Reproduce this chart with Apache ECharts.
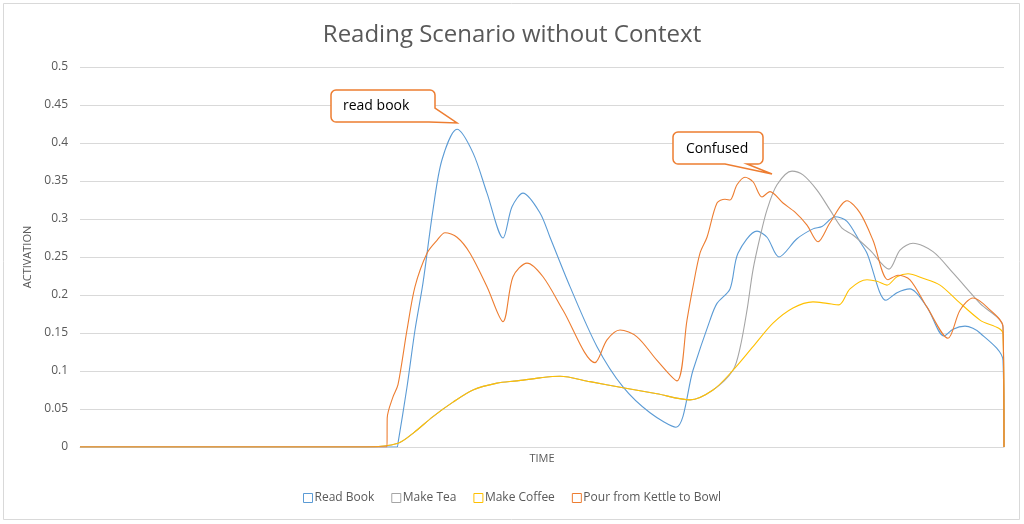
<!DOCTYPE html>
<html>
<head>
<meta charset="utf-8">
<script src="https://cdn.jsdelivr.net/npm/echarts@6/dist/echarts.min.js"></script>
<style>
html,body{margin:0;padding:0;background:#fff;}
#chart{width:1024px;height:524px;}
</style>
</head>
<body>
<div id="chart"></div>
<script>
// Time is in arbitrary time steps (0..231); values are activation levels
var seriesNames = ['Read Book', 'Make Tea', 'Make Coffee', 'Pour from Kettle to Bowl'];
var yTicks = [0, 0.05, 0.1, 0.15, 0.2, 0.25, 0.3, 0.35, 0.4, 0.45, 0.5];

var readBook = [
  [0, 0], [79.25, 0], [79.5, 0.005], [81.75, 0.079], [83.75, 0.154], [85.75, 0.216], [88.25, 0.312],
  [90.5, 0.378], [94.25, 0.418], [98.25, 0.387], [101.75, 0.334], [105.75, 0.275],
  [108, 0.316], [110.75, 0.334], [115, 0.308], [117.5, 0.276], [122.5, 0.211],
  [129.25, 0.132], [135.75, 0.079], [142.5, 0.045], [149, 0.026], [153.25, 0.101],
  [157.5, 0.167], [159.25, 0.189], [162.5, 0.208], [164.5, 0.255], [169.25, 0.284],
  [171.75, 0.276], [174.75, 0.25], [179.25, 0.274], [183.25, 0.287], [185.5, 0.29],
  [188.75, 0.303], [191.75, 0.297], [195, 0.27], [196.75, 0.255], [201.5, 0.193],
  [204.25, 0.203], [207.5, 0.208], [211.75, 0.184], [216, 0.146], [218.25, 0.155],
  [221.25, 0.159], [225, 0.15], [230.75, 0.114], [231, 0]
];

var makeTea = [
  [0, 0], [71.75, 0], [79.5, 0.005], [83.25, 0.018], [88.25, 0.04], [93.25, 0.059],
  [98.25, 0.075], [104.25, 0.084], [109.25, 0.087], [115, 0.091], [120, 0.093],
  [127.5, 0.086], [135.75, 0.078], [144.25, 0.07], [152.5, 0.062], [158.25, 0.075],
  [163.25, 0.101], [165, 0.13], [166.75, 0.18], [168.25, 0.233], [170, 0.276],
  [171.75, 0.312], [174.25, 0.345], [178, 0.363], [180.75, 0.358], [184.25, 0.338],
  [187.5, 0.312], [190.5, 0.288], [193.25, 0.279], [197.5, 0.259], [202.25, 0.234],
  [205, 0.259], [208.25, 0.268], [213.25, 0.257], [218.25, 0.229], [225, 0.189],
  [230.75, 0.158], [231, 0]
];

var makeCoffee = [
  [0, 0], [71.75, 0], [79.5, 0.005], [83.25, 0.018], [88.25, 0.04], [93.25, 0.059],
  [98.25, 0.075], [104.25, 0.084], [109.25, 0.087], [115, 0.091], [120, 0.093],
  [127.5, 0.086], [135.75, 0.078], [144.25, 0.07], [152.5, 0.062], [158.25, 0.075],
  [163.25, 0.101], [168.25, 0.132], [173.25, 0.163], [178.25, 0.183], [183.25, 0.191],
  [186.75, 0.189], [189.75, 0.187], [192.5, 0.208], [196.75, 0.22], [199.25, 0.218],
  [201.75, 0.213], [204.25, 0.224], [207, 0.228], [210.75, 0.222], [215, 0.213],
  [219.25, 0.193], [225, 0.167], [230.75, 0.149], [231, 0]
];

var pourKettle = [
  [0, 0], [76.75, 0], [76.8, 0.038], [78.25, 0.066], [79.5, 0.082], [81.75, 0.154],
  [83.75, 0.211], [86.75, 0.255], [89.25, 0.272], [91.25, 0.282], [94.25, 0.276],
  [97.5, 0.255], [101.75, 0.211], [105.75, 0.165], [108.25, 0.224], [111.75, 0.242],
  [115.75, 0.224], [120.75, 0.18], [128.75, 0.111], [131.75, 0.141], [135, 0.154],
  [139.25, 0.145], [144.25, 0.114], [149.25, 0.087], [151.75, 0.167], [153.25, 0.211],
  [155, 0.255], [156.75, 0.276], [159.25, 0.321], [161.25, 0.326], [162.5, 0.325],
  [164.25, 0.345], [166.25, 0.355], [168.25, 0.349], [170.5, 0.329], [172.5, 0.336],
  [175.75, 0.321], [178.75, 0.309], [181.75, 0.292], [184.5, 0.27], [187.5, 0.295],
  [191.75, 0.324], [195, 0.308], [198.25, 0.272], [202, 0.22], [204.5, 0.226],
  [207.5, 0.22], [211.75, 0.184], [217, 0.143], [220, 0.18], [223.25, 0.196],
  [226.75, 0.184], [230.75, 0.158], [231, 0]
];

var colors = ['#5B9BD5', '#A5A5A5', '#FFC000', '#ED7D31'];
var allData = [readBook, makeTea, makeCoffee, pourKettle];
var FONT = 'Open Sans';

// rounded-corner arc points for callout outlines
function arcPts(cx, cy, r, a0, a1) {
  var pts = [];
  for (var k = 0; k <= 4; k++) {
    var a = (a0 + (a1 - a0) * k / 4) * Math.PI / 180;
    pts.push([cx + r * Math.cos(a), cy + r * Math.sin(a)]);
  }
  return pts;
}
function calloutRight(x0, y0, x1, y1, r, tailRightY, tip, tailBottomX) {
  var p = [];
  p = p.concat(arcPts(x0 + r, y0 + r, r, 180, 270));
  p = p.concat(arcPts(x1 - r, y0 + r, r, 270, 360));
  p.push([x1, tailRightY]);
  p.push(tip);
  p.push([tailBottomX, y1]);
  p = p.concat(arcPts(x0 + r, y1 - r, r, 90, 180));
  return p;
}
function calloutBottom(x0, y0, x1, y1, r, baseR, tip, baseL) {
  var p = [];
  p = p.concat(arcPts(x0 + r, y0 + r, r, 180, 270));
  p = p.concat(arcPts(x1 - r, y0 + r, r, 270, 360));
  p = p.concat(arcPts(x1 - r, y1 - r, r, 0, 90));
  p.push([baseR, y1]);
  p.push(tip);
  p.push([baseL, y1]);
  p = p.concat(arcPts(x0 + r, y1 - r, r, 90, 180));
  return p;
}

var chart = echarts.init(document.getElementById('chart'));
var option = {
  animation: false,
  backgroundColor: '#fff',
  title: {
    text: 'Reading Scenario without Context',
    left: 'center',
    top: 18,
    textStyle: { fontFamily: FONT, fontSize: 24, fontWeight: 'normal', color: '#595959' }
  },
  grid: { left: 80, right: 20, top: 67, bottom: 77, containLabel: false },
  legend: {
    bottom: 15,
    left: 'center',
    itemGap: 17,
    itemWidth: 9,
    itemHeight: 9,
    icon: 'rect',
    textStyle: { fontFamily: FONT, fontSize: 12, color: '#595959', padding: [0, 0, 0, -3] },
    data: seriesNames.map(function (n, i) {
      return { name: n, itemStyle: { color: '#fff', borderColor: colors[i], borderWidth: 1 } };
    })
  },
  xAxis: {
    type: 'value',
    min: 0,
    max: 231,
    name: 'TIME',
    nameLocation: 'middle',
    nameGap: 6,
    nameTextStyle: { fontFamily: FONT, fontSize: 11, color: '#595959' },
    axisLabel: { show: false },
    axisTick: { show: false },
    splitLine: { show: false },
    axisLine: { lineStyle: { color: '#D9D9D9' } }
  },
  yAxis: {
    type: 'value',
    min: 0,
    max: 0.5,
    interval: 0.05,
    name: 'ACTIVATION',
    nameLocation: 'middle',
    nameGap: 46,
    nameTextStyle: { fontFamily: FONT, fontSize: 11, color: '#595959' },
    axisLine: { show: false },
    axisTick: { show: false },
    axisLabel: {
      margin: 12,
      fontFamily: FONT, fontSize: 12, color: '#595959',
      formatter: function (v) { return String(+v.toFixed(2)); }
    },
    splitLine: { lineStyle: { color: '#D9D9D9', width: 1 } }
  },
  series: seriesNames.map(function (n, i) {
    return {
      name: n,
      type: 'line',
      data: allData[i],
      showSymbol: false,
      symbol: 'none',
      smooth: 0.3,
      lineStyle: { color: colors[i], width: 1.1 },
      itemStyle: { color: colors[i] },
      z: 2 + i
    };
  }),
  graphic: [
    {
      type: 'rect', silent: true,
      shape: { x: 3.5, y: 3.5, width: 1016, height: 516 },
      style: { fill: 'none', stroke: '#D9D9D9', lineWidth: 1 }
    },
    {
      type: 'polygon', z: 100, silent: true,
      shape: { points: calloutRight(331, 90, 435, 122, 5, 108, [457, 123], 429) },
      style: { fill: '#fff', stroke: '#ED7D31', lineWidth: 1.5 }
    },
    {
      type: 'text', z: 101, left: 343, top: 99,
      style: { text: 'read book', fontFamily: FONT, fontSize: 14, fill: '#000' }
    },
    {
      type: 'polygon', z: 100, silent: true,
      shape: { points: calloutBottom(673, 132, 763, 164, 5, 747, [772, 174], 725) },
      style: { fill: '#fff', stroke: '#ED7D31', lineWidth: 1.5 }
    },
    {
      type: 'text', z: 101, left: 686, top: 142,
      style: { text: 'Confused', fontFamily: FONT, fontSize: 14, fill: '#000' }
    }
  ]
};
chart.setOption(option);
</script>
</body>
</html>
